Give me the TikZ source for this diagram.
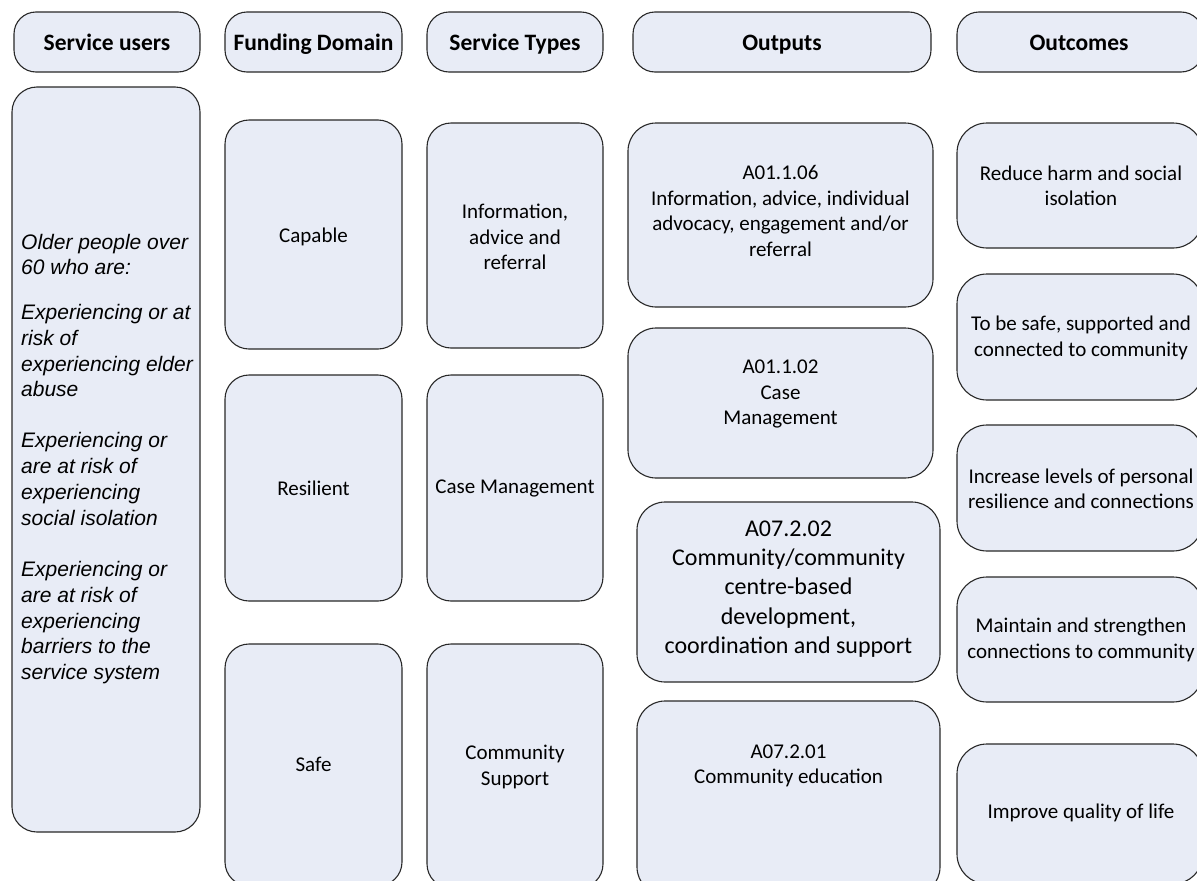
\documentclass[tikz,border=0pt]{standalone}
\usepackage{fontspec}
\setmainfont{Carlito}
\newfontfamily\arialfont{Liberation Sans}
\usetikzlibrary{fit}
\definecolor{boxfill}{RGB}{232,236,246}
\definecolor{boxline}{RGB}{40,40,40}
\begin{document}
\begin{tikzpicture}[x=1pt,y=-1pt,
  box/.style={draw=boxline, fill=boxfill, line width=1.1pt, inner sep=0pt, rounded corners=#1},
  box/.default=24pt,
  txt/.style={align=center, font=\fontsize{21}{25.5}\selectfont, inner sep=0pt},
  bigtxt/.style={align=center, font=\fontsize{24}{29.2}\selectfont, inner sep=0pt},
  head/.style={anchor=base, align=center, font=\fontsize{23.5}{28}\selectfont\bfseries, inner sep=0pt},
  usertext/.style={align=left, anchor=west, inner sep=0pt, font=\arialfont\itshape\fontsize{21}{25.7}\selectfont},
]
\useasboundingbox (0,0) rectangle (1197,881);
\clip (0,0) rectangle (1197,881);

% headers
\node[box=22pt, fit={(14,12) (200,72)}] (h1) {};
\node[box=22pt, fit={(225,12) (402,72)}] (h2) {};
\node[box=22pt, fit={(427,12) (603,72)}] (h3) {};
\node[box=22pt, fit={(633,12) (931,72)}] (h4) {};
\node[box=22pt, fit={(957,12) (1203,72)}] (h5) {};
\node[head] (h1t) at (107,50) {Service users};
\node[head] (h2t) at (313.5,50) {Funding Domain};
\node[head] (h3t) at (515,50) {Service Types};
\node[head] (h4t) at (782,50) {Outputs};
\node[head] (h5t) at (1079,50) {Outcomes};

% service users
\node[box=25pt, fit={(12,87) (200,832)}] (users) {};
\node[usertext] (userst) at (21,459) {Older people over\\60 who are:\\[19pt]Experiencing or at\\risk of\\experiencing elder\\abuse\\[25.5pt]Experiencing or\\are at risk of\\experiencing\\social isolation\\[26pt]Experiencing or\\are at risk of\\experiencing\\barriers to the\\service system};

% funding domain
\node[box=24pt, fit={(225,120) (402,349)}] (capable) {};
\node[box=24pt, fit={(225,375) (402,601)}] (resilient) {};
\node[box=24pt, fit={(225,644) (402,886)}] (safe) {};
\node[txt] (capablet) at (313.5,237) {Capable};
\node[txt] (resilientt) at (313.5,488) {Resilient};
\node[txt] (safet) at (313.5,764) {Safe};

% service types
\node[box=24pt, fit={(427,123) (603,348)}] (info) {};
\node[box=24pt, fit={(427,375) (603,601)}] (casemgmt) {};
\node[box=24pt, fit={(427,644) (603,888)}] (commsupp) {};
\node[txt] (infot) at (515,237) {Information,\\advice and\\referral};
\node[txt] (casemgmtt) at (515,488) {Case Management};
\node[txt] (commsuppt) at (515,767) {Community\\Support};

% outputs
\node[box=28pt, fit={(628,123) (933,307)}] (o1) {};
\node[box=28pt, fit={(628,328) (933,478)}] (o2) {};
\node[box=28pt, fit={(637,502) (940,682)}] (o3) {};
\node[box=28pt, fit={(637,701) (940,895)}] (o4) {};
\node[txt] (o1t) at (780.5,211) {A01.1.06\\Information, advice, individual\\advocacy, engagement and/or\\referral};
\node[txt] (o2t) at (780.5,394) {A01.1.02\\Case\\Management};
\node[bigtxt] (o3t) at (788.5,589) {A07.2.02\\Community/community\\centre-based\\development,\\coordination and support};
\node[txt] (o4t) at (788.5,766) {A07.2.01\\Community education};

% outcomes
\node[box=30pt, fit={(957,123) (1203,248)}] (r1) {};
\node[box=30pt, fit={(957,274) (1203,400)}] (r2) {};
\node[box=30pt, fit={(957,425) (1203,551)}] (r3) {};
\node[box=30pt, fit={(957,577) (1203,702)}] (r4) {};
\node[box=30pt, fit={(957,744) (1203,884)}] (r5) {};
\node[txt] (r1t) at (1081,186) {Reduce harm and social\\isolation};
\node[txt] (r2t) at (1081,338) {To be safe, supported and\\connected to community};
\node[txt] (r3t) at (1081,489) {Increase levels of personal\\resilience and connections};
\node[txt] (r4t) at (1081,640) {Maintain and strengthen\\connections to community};
\node[txt] (r5t) at (1081,813) {Improve quality of life};
\end{tikzpicture}
\end{document}
